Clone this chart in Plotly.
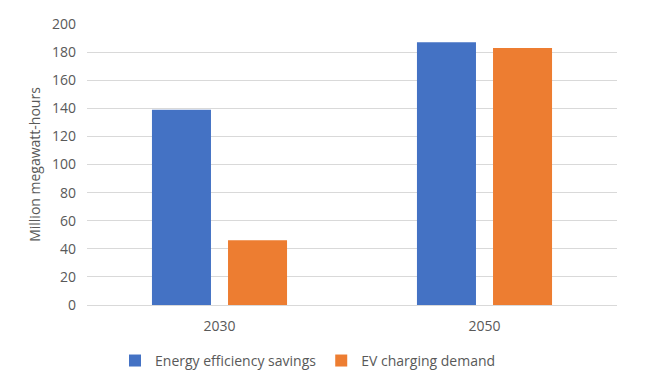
import plotly.graph_objects as go

categories = ["2030", "2050"]
efficiency_savings = [139, 187]
ev_demand = [46, 183]
y_ticks = [0, 20, 40, 60, 80, 100, 120, 140, 160, 180, 200]

fig = go.Figure()
fig.add_trace(go.Bar(name="Energy efficiency savings", x=categories, y=efficiency_savings,
                     marker=dict(color="#4472C4", line=dict(width=0))))
fig.add_trace(go.Bar(name="EV charging demand", x=categories, y=ev_demand,
                     marker=dict(color="#ED7D31", line=dict(width=0))))

fig.update_layout(
    width=634, height=362,
    margin=dict(l=79, r=25, t=16, b=65, autoexpand=False),
    paper_bgcolor="white", plot_bgcolor="white",
    barmode="group", bargap=0.426, bargroupgap=0.224,
    font=dict(family="Open Sans, Liberation Sans, sans-serif", size=14, color="#595959"),
    legend=dict(orientation="h", x=0.417, xanchor="center", y=-0.199, yanchor="middle",
                font=dict(size=14, color="#595959"), itemwidth=30, traceorder="normal"),
    showlegend=True,
)
fig.update_yaxes(range=[0, 200], tickvals=y_ticks, showgrid=True, gridcolor="#d9d9d9",
                 gridwidth=1, zeroline=False, showline=False, ticks="", automargin=False,
                 ticklabelstandoff=10,
                 title=dict(text="Million megawatt-hours", font=dict(size=14, color="#595959"), standoff=8),
                 tickfont=dict(size=14, color="#595959"))
fig.update_xaxes(showline=True, linecolor="#d9d9d9", ticks="", showgrid=False, automargin=False,
                 ticklabelstandoff=8,
                 tickfont=dict(size=14, color="#595959"))

fig.write_html("out.html")
